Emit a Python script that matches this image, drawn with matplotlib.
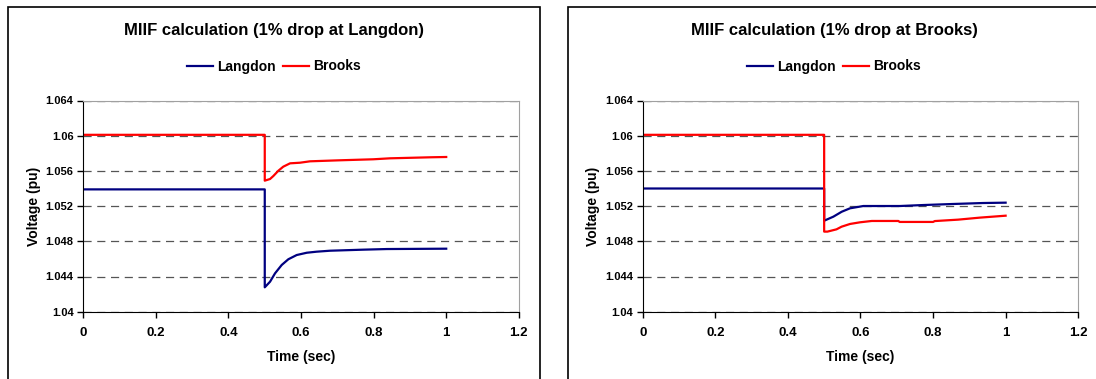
"""MIIF calculation: voltage response at Langdon and Brooks for a 1% drop."""

import matplotlib.pyplot as plt
from matplotlib.patches import Rectangle

plt.rcParams["font.family"] = ["Liberation Sans", "DejaVu Sans"]
plt.rcParams["font.weight"] = "bold"

# 1% drop at Langdon
t_lan_a = [0, 0.5, 0.5, 0.5146, 0.5283, 0.5467, 0.565, 0.588, 0.6157, 0.643,
           0.68, 0.772, 0.836, 1.0]
v_lan_a = [1.0539, 1.0539, 1.04277, 1.04341, 1.04436, 1.04531, 1.04596, 1.04644,
           1.0467, 1.04682, 1.04693, 1.04705, 1.04712, 1.04716]
t_bro_a = [0, 0.5, 0.5, 0.5146, 0.5237, 0.5375, 0.551, 0.5697, 0.597, 0.6248,
           0.7027, 0.799, 0.845, 0.96, 1.0]
v_bro_a = [1.0601, 1.0601, 1.05489, 1.05508, 1.05542, 1.05602, 1.05648, 1.05686,
           1.05693, 1.05709, 1.0572, 1.05732, 1.05743, 1.05755, 1.05758]

# 1% drop at Brooks
t_lan_b = [0, 0.5, 0.5, 0.5254, 0.5484, 0.5713, 0.608, 0.709, 0.7725, 0.855,
           0.9376, 1.0]
v_lan_b = [1.0540, 1.0540, 1.05034, 1.0508, 1.05136, 1.05175, 1.05201, 1.05201,
           1.05212, 1.05224, 1.05235, 1.05239]
t_bro_b = [0, 0.5, 0.5, 0.509, 0.534, 0.548, 0.5713, 0.599, 0.6312, 0.7045,
           0.708, 0.8, 0.805, 0.869, 0.929, 1.0]
v_bro_b = [1.0601, 1.0601, 1.0491, 1.0491, 1.04936, 1.04966, 1.04997, 1.05016,
           1.05031, 1.05031, 1.0502, 1.0502, 1.0503, 1.05046, 1.05069, 1.05091]

x_ticks = [0, 0.2, 0.4, 0.6, 0.8, 1, 1.2]
y_ticks = [1.04, 1.044, 1.048, 1.052, 1.056, 1.06, 1.064]
y_labels = ["1.04", "1.044", "1.048", "1.052", "1.056", "1.06", "1.064"]

W, H = 1096, 379
fig = plt.figure(figsize=(W / 100, H / 100), dpi=100)

panels = [
    ("MIIF calculation (1% drop at Langdon)", 8, 83.3,
     (t_lan_a, v_lan_a), (t_bro_a, v_bro_a)),
    ("MIIF calculation (1% drop at Brooks)", 568, 642.7,
     (t_lan_b, v_lan_b), (t_bro_b, v_bro_b)),
]

for title, frame_x, ax_x, lan, bro in panels:
    # outer chart border
    fig.patches.append(Rectangle((frame_x / W, -0.2), 532 / W, 1.2 - 7 / H,
                                 transform=fig.transFigure, fill=False,
                                 edgecolor="black", linewidth=1.2))
    ax = fig.add_axes([ax_x / W, 1 - 311.7 / H, 435.5 / W, 211.2 / H])
    l1, = ax.plot(lan[0], lan[1], color="#000080", linewidth=1.6, label="Langdon")
    l2, = ax.plot(bro[0], bro[1], color="#ff0000", linewidth=1.6, label="Brooks")
    ax.set_xlim(0, 1.2)
    ax.set_ylim(1.04, 1.064)
    ax.set_xticks(x_ticks)
    ax.set_xticklabels(["0", "0.2", "0.4", "0.6", "0.8", "1", "1.2"],
                       fontsize=9.5, fontweight="bold")
    ax.set_yticks(y_ticks)
    ax.set_yticklabels(y_labels, fontsize=8, fontweight="bold")
    ax.tick_params(axis="x", length=4, width=1, pad=7)
    ax.tick_params(axis="y", length=4, width=1, pad=3)
    ax.yaxis.grid(True, linestyle=(0, (6.5, 4.5)), color="#555555", linewidth=0.9)
    ax.set_axisbelow(True)
    for side in ("top", "right"):
        ax.spines[side].set_color("#a0a0a0")
    for side in ("left", "bottom"):
        ax.spines[side].set_color("black")
    ax.set_xlabel("Time (sec)", fontsize=10, fontweight="bold", labelpad=8)
    ax.set_ylabel("Voltage (pu)", fontsize=10, fontweight="bold", labelpad=3.5)

    cx = (frame_x + 266) / W
    fig.text(cx, 1 - 30 / H, title, ha="center", va="center",
             fontsize=12, fontweight="bold")
    fig.legend([l1, l2], ["Langdon", "Brooks"], loc="center",
               bbox_to_anchor=(cx, 1 - 66.5 / H), ncol=2, frameon=False,
               fontsize=10, handlelength=1.9, handletextpad=0.3,
               columnspacing=0.5, borderaxespad=0)

fig.savefig("out.png", dpi=100)
